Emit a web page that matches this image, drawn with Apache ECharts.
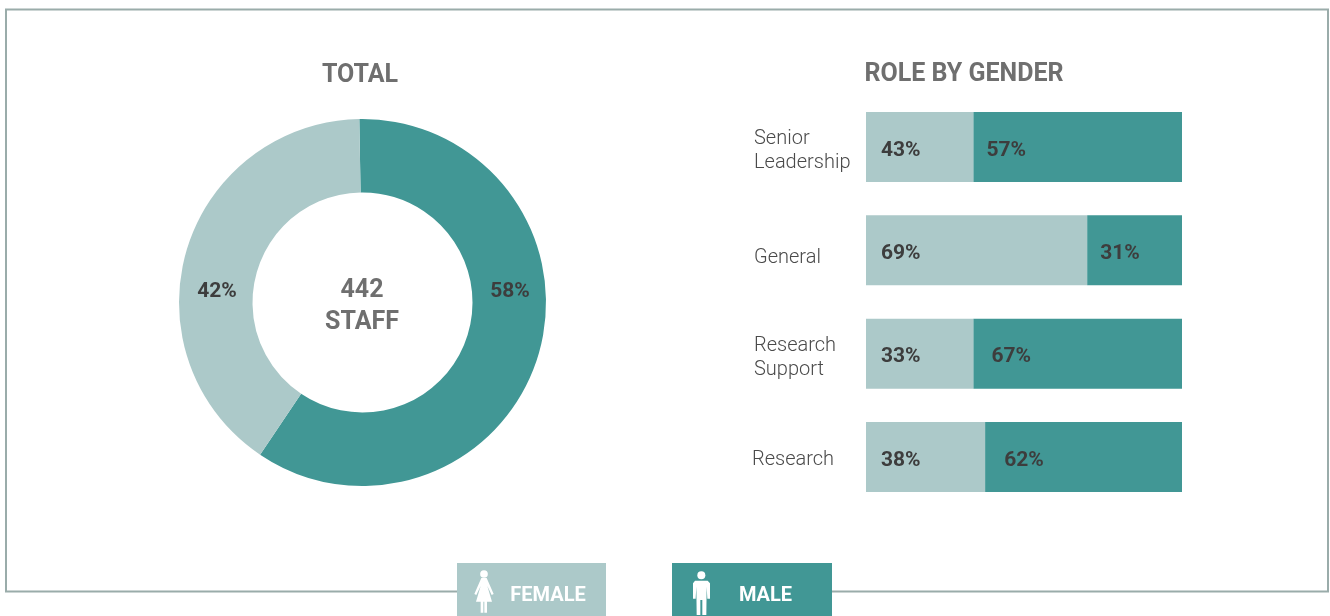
<!DOCTYPE html>
<html>
<head>
    <meta http-equiv="Content-Type" content="text/html; charset=utf-8" />
    <script type="text/javascript" src="https://cdn.jsdelivr.net/npm/echarts@6/dist/echarts.min.js"></script>
    <style>
        html, body { margin: 0; padding: 0; background: #fff; }
        #chartDom { position: absolute; width: 1330px; height: 616px; }
    </style>
</head>
<body>
    <div id="chartDom"></div>

    <script type="text/javascript">
        // donut: the printed labels differ a little from the drawn arcs, so keep both
        var donutNames = ["Male", "Female"];
        var donutArcs = [59.7, 40.3];
        var donutLabels = ["58%", "42%"];

        var roles = ["Senior\nLeadership", "General", "Research\nSupport", "Research"];
        var femaleWidths = [34, 70, 34, 37.7];
        var maleWidths = [66, 30, 66, 62.3];
        var femaleLabels = ["43%", "69%", "33%", "38%"];
        var maleLabels = ["57%", "31%", "67%", "62%"];
        var maleLabelGaps = [13, 13, 18, 19];

        var FEMALE = "#acc9c9", MALE = "#419795", BORDER = "#9aacaa";
        var GREY = "#6f6f6f", DARK = "#3d3d3d";
        var FONT = "Roboto";

        var donutLabelPos = [{ x: 510, y: 292 }, { x: 217, y: 292 }];
        // height of the blank line above each axis label, moves the text down by half of it
        var roleSpacers = ["s8", "s16", "s8", "s6"];

        function barData(widths, labels, gaps) {
            return widths.map(function (w, i) {
                return {
                    value: w,
                    label: {
                        show: true,
                        position: "insideLeft",
                        distance: gaps ? gaps[i] : 15,
                        offset: [0, 3.5],
                        formatter: labels[i],
                        color: DARK,
                        fontFamily: FONT,
                        fontWeight: "bold",
                        fontSize: 21
                    }
                };
            });
        }

        function headingTitle(text, x, y, size, color) {
            return {
                text: text,
                left: x,
                top: y,
                textAlign: "center",
                padding: 0,
                textStyle: { color: color, fontFamily: FONT, fontWeight: "bold", fontSize: size, lineHeight: 32 }
            };
        }

        function roleStyle(left) {
            return { color: "#4a4a4a", fontFamily: FONT, fontWeight: 300, fontSize: 20, lineHeight: 24, padding: [0, 0, 0, left] };
        }

        var myChart = echarts.init(document.getElementById("chartDom"), null, { renderer: "canvas" });
        myChart.setOption({
            animation: false,
            backgroundColor: "#fff",
            title: [
                headingTitle("TOTAL", 360, 60, 25, GREY),
                headingTitle("ROLE BY GENDER", 964, 59, 25, GREY),
                headingTitle("442\nSTAFF", 362, 275, 25, GREY)
            ],
            grid: { left: 866, top: 95.33, width: 316, height: 413.33 },
            xAxis: { type: "value", min: 0, max: 100, show: false },
            yAxis: {
                type: "category",
                inverse: true,
                data: roles,
                axisLine: { show: false },
                axisTick: { show: false },
                axisLabel: {
                    align: "left",
                    margin: 114,
                    formatter: function (value, index) {
                        var tag = index === 3 ? "r" : "l";
                        var lines = value.split("\n").map(function (t) {
                            return "{" + tag + "|" + t + "}";
                        });
                        return "{" + roleSpacers[index] + "| }\n" + lines.join("\n");
                    },
                    rich: {
                        l: roleStyle(2),
                        r: roleStyle(0),
                        s6: { fontSize: 1, lineHeight: 6, height: 6 },
                        s8: { fontSize: 1, lineHeight: 8, height: 8 },
                        s16: { fontSize: 1, lineHeight: 16, height: 16 }
                    }
                }
            },
            series: [
                {
                    type: "pie",
                    center: [362.5, 302.5],
                    radius: [110, 183.5],
                    startAngle: 91,
                    clockwise: true,
                    silent: true,
                    data: donutNames.map(function (n, i) {
                        return {
                            name: n,
                            value: donutArcs[i],
                            itemStyle: { color: i === 0 ? MALE : FEMALE },
                            label: { formatter: donutLabels[i] }
                        };
                    }),
                    label: {
                        position: "inside",
                        color: DARK,
                        fontFamily: FONT,
                        fontWeight: "bold",
                        fontSize: 21
                    },
                    labelLine: { show: false },
                    labelLayout: function (params) {
                        return donutLabelPos[params.dataIndex];
                    }
                },
                {
                    name: "Female",
                    type: "bar",
                    stack: "role",
                    barWidth: 70,
                    itemStyle: { color: FEMALE },
                    data: barData(femaleWidths, femaleLabels)
                },
                {
                    name: "Male",
                    type: "bar",
                    stack: "role",
                    barWidth: 70,
                    itemStyle: { color: MALE },
                    data: barData(maleWidths, maleLabels, maleLabelGaps)
                }
            ],
            graphic: [
                // frame, with the gap behind the legend tabs
                { type: "rect", z: -1, shape: { x: 6, y: 9.5, width: 1322, height: 582 }, style: { fill: "none", stroke: BORDER, lineWidth: 2 } },
                { type: "rect", z: 1, shape: { x: 457, y: 585, width: 375, height: 12 }, style: { fill: "#fff" } },
                { type: "rect", z: 2, shape: { x: 457, y: 563, width: 149, height: 53 }, style: { fill: FEMALE } },
                { type: "rect", z: 2, shape: { x: 672, y: 563, width: 160, height: 53 }, style: { fill: MALE } },
                { type: "text", z: 3, style: { x: 548, y: 596, text: "FEMALE", fill: "#fff", font: "bold 20px " + FONT, textAlign: "center", textVerticalAlign: "middle" } },
                { type: "text", z: 3, style: { x: 765.5, y: 596, text: "MALE", fill: "#fff", font: "bold 20px " + FONT, textAlign: "center", textVerticalAlign: "middle" } },
                // people icons, drawn in 3x units
                {
                    type: "group", x: 440, y: 550, scaleX: 1 / 3, scaleY: 1 / 3, z: 3,
                    children: [
                        { type: "circle", z: 3, shape: { cx: 132, cy: 72, r: 11.5 }, style: { fill: "#fff" } },
                        { type: "polygon", z: 3, shape: { points: [[124, 84], [140, 84], [161, 132], [155, 135], [142, 108], [156, 155], [141, 155], [141, 188], [133, 188], [133, 155], [130, 155], [130, 188], [122, 188], [122, 155], [108, 155], [122, 108], [109, 135], [103, 132]] }, style: { fill: "#fff" } },
                        { type: "circle", z: 3, shape: { cx: 784, cy: 76, r: 12 }, style: { fill: "#fff" } },
                        { type: "polygon", z: 3, shape: { points: [[765, 92], [803, 92], [810, 100], [810, 146], [802, 146], [800, 110], [799, 195], [787, 195], [787, 150], [781, 150], [781, 195], [770, 195], [769, 110], [767, 146], [759, 146], [759, 100]] }, style: { fill: "#fff" } }
                    ]
                }
            ]
        });
    </script>
</body>
</html>
